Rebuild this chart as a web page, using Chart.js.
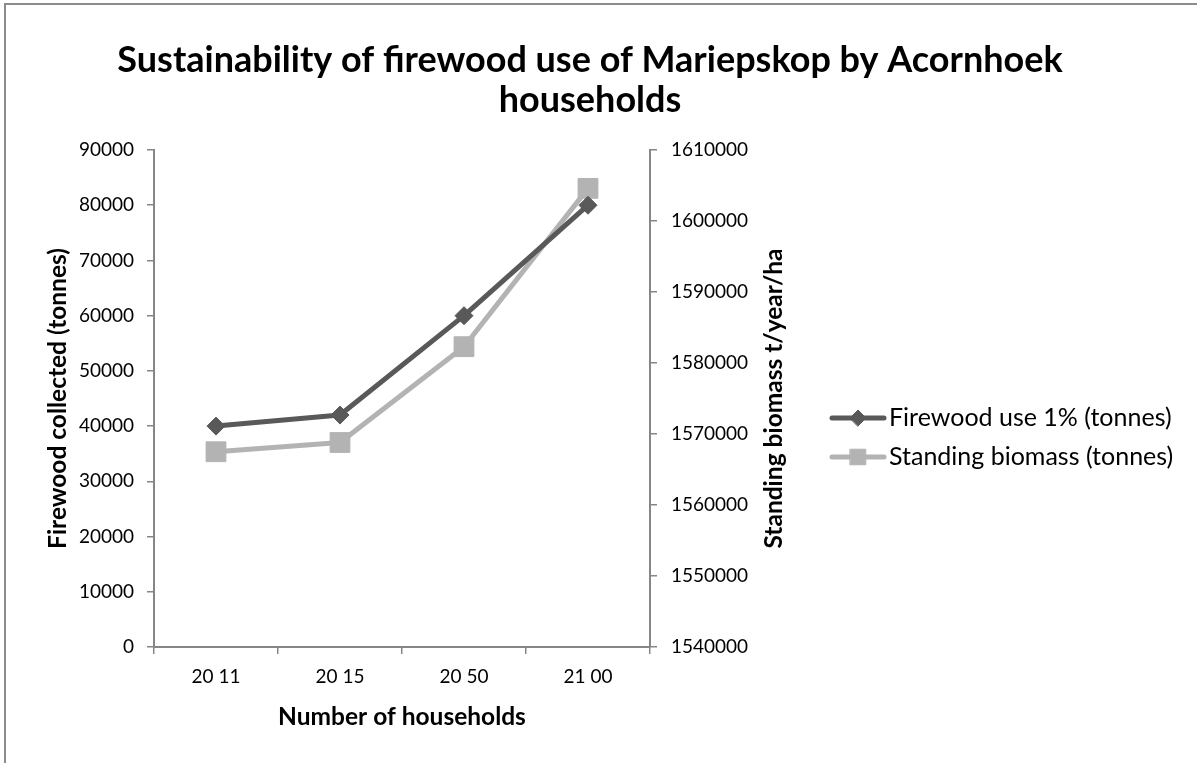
<!DOCTYPE html>
<html>
<head>
<meta charset="utf-8">
<script src="https://cdn.jsdelivr.net/npm/chart.js@4.4.1/dist/chart.umd.min.js"></script>
<style>
  html, body { margin: 0; padding: 0; background: #ffffff; }
  #wrap { position: relative; width: 1197px; height: 763px; }
</style>
</head>
<body>
<div id="wrap"><canvas id="chart" width="1197" height="763"></canvas></div>
<script>
// Category labels along the bottom axis
const categories = ['20 11', '20 15', '20 50', '21 00'];

// Series values
const firewoodUse = [40000, 42000, 60000, 80000];             // left axis
const standingBiomass = [1567500, 1568800, 1582300, 1604600]; // right axis

// Series names and text
const seriesNames = ['Firewood use 1% (tonnes)', 'Standing biomass (tonnes)'];
const titleLines = ['Sustainability of firewood use of Mariepskop by Acornhoek', 'households'];
const xTitle = 'Number of households';
const yLeftTitle = 'Firewood collected (tonnes)';
const yRightTitle = 'Standing biomass t/year/ha';

// Axis ranges
const leftRange = [0, 90000, 10000];
const rightRange = [1540000, 1610000, 10000];

const FONT = 'Lato, "Open Sans", "Liberation Sans", sans-serif';
const AXIS_GREY = '#868686';
const DARK = '#595959';
const LIGHT = '#b3b3b3';

// White background plus the outer frame (left and top edges)
const framePlugin = {
  id: 'frame',
  beforeDraw(chart) {
    const ctx = chart.ctx;
    ctx.save();
    ctx.fillStyle = '#ffffff';
    ctx.fillRect(0, 0, chart.width, chart.height);
    ctx.strokeStyle = '#8c8c8c';
    ctx.lineWidth = 2;
    ctx.beginPath();
    ctx.moveTo(5, chart.height);
    ctx.lineTo(5, 4);
    ctx.lineTo(chart.width, 4);
    ctx.stroke();
    ctx.restore();
  }
};

// Two-line chart heading
const headingPlugin = {
  id: 'heading',
  afterDraw(chart) {
    const ctx = chart.ctx;
    ctx.save();
    ctx.fillStyle = '#000000';
    ctx.font = 'bold 36px ' + FONT;
    ctx.textAlign = 'center';
    ctx.textBaseline = 'middle';
    ctx.fillText(titleLines[0], 590, 60);
    ctx.fillText(titleLines[1], 590, 100);
    ctx.restore();
  }
};

// Right axis title, reading bottom to top
const rightTitlePlugin = {
  id: 'rightTitle',
  afterDraw(chart) {
    const s = chart.scales.y1;
    const ctx = chart.ctx;
    ctx.save();
    ctx.translate(s.right - 10, (s.top + s.bottom) / 2);
    ctx.rotate(-Math.PI / 2);
    ctx.fillStyle = '#000000';
    ctx.font = 'bold 24.5px ' + FONT;
    ctx.textAlign = 'center';
    ctx.textBaseline = 'middle';
    ctx.fillText(yRightTitle, 0, 0);
    ctx.restore();
  }
};

// Legend with line + marker swatches
const legendPlugin = {
  id: 'lineLegend',
  afterDraw(chart) {
    const ctx = chart.ctx;
    const rows = [418, 457];
    chart.data.datasets.forEach((ds, i) => {
      const y = rows[i];
      ctx.save();
      ctx.strokeStyle = ds.borderColor;
      ctx.lineWidth = 5;
      ctx.lineCap = 'round';
      ctx.beginPath();
      ctx.moveTo(832, y);
      ctx.lineTo(884, y);
      ctx.stroke();
      ctx.fillStyle = ds.pointBackgroundColor;
      ctx.strokeStyle = ds.pointBorderColor;
      ctx.lineWidth = 1;
      Chart.helpers.drawPoint(ctx, {
        pointStyle: ds.pointStyle,
        radius: ds.pointStyle === 'rect' ? 11 : 8,
        rotation: 0,
        borderWidth: 1
      }, 858, y);
      ctx.fillStyle = '#000000';
      ctx.font = '25px ' + FONT;
      ctx.textAlign = 'left';
      ctx.textBaseline = 'middle';
      ctx.fillText(ds.label, 889, y);
      ctx.restore();
    });
  }
};

const tickFont = { family: FONT, size: 19 };
const axisTitleFont = { family: FONT, size: 24.5, weight: 'bold' };

new Chart(document.getElementById('chart'), {
  type: 'line',
  data: {
    labels: categories,
    datasets: [
      {
        label: seriesNames[0],
        data: firewoodUse,
        yAxisID: 'y',
        borderColor: DARK,
        backgroundColor: DARK,
        pointBackgroundColor: DARK,
        pointBorderColor: DARK,
        borderWidth: 5,
        pointStyle: 'rectRot',
        pointRadius: 9,
        pointBorderWidth: 1,
        tension: 0,
        order: 1
      },
      {
        label: seriesNames[1],
        data: standingBiomass,
        yAxisID: 'y1',
        borderColor: LIGHT,
        backgroundColor: LIGHT,
        pointBackgroundColor: LIGHT,
        pointBorderColor: LIGHT,
        borderWidth: 5,
        pointStyle: 'rect',
        pointRadius: 14,
        pointBorderWidth: 1,
        tension: 0,
        order: 2
      }
    ]
  },
  options: {
    responsive: false,
    animation: false,
    devicePixelRatio: 1,
    layout: { padding: { left: 43, right: 413, top: 150, bottom: 31 } },
    plugins: {
      legend: { display: false },
      title: { display: false },
      tooltip: { enabled: false }
    },
    elements: { line: { borderCapStyle: 'round', borderJoinStyle: 'round' } },
    scales: {
      x: {
        type: 'category',
        offset: true,
        grid: { offset: true, drawOnChartArea: false, drawTicks: true, tickLength: 7, color: AXIS_GREY, lineWidth: 1.5 },
        border: { display: true, color: AXIS_GREY, width: 2 },
        ticks: { font: tickFont, color: '#000000', padding: 11, maxRotation: 0, autoSkip: false },
        title: { display: true, text: xTitle, font: axisTitleFont, color: '#000000', padding: 0 },
        afterFit(s) { s.height = 85; }
      },
      y: {
        position: 'left',
        min: leftRange[0],
        max: leftRange[1],
        grid: { drawOnChartArea: false, drawTicks: true, tickLength: 7, color: AXIS_GREY, lineWidth: 1.5 },
        border: { display: true, color: AXIS_GREY, width: 2 },
        ticks: { stepSize: leftRange[2], font: tickFont, color: '#000000', padding: 13, callback: v => String(v) },
        title: { display: true, text: yLeftTitle, font: axisTitleFont, color: '#000000', padding: 0 },
        afterFit(s) { s.width = 111; }
      },
      y1: {
        position: 'right',
        min: rightRange[0],
        max: rightRange[1],
        grid: { drawOnChartArea: false, drawTicks: true, tickLength: 7, color: AXIS_GREY, lineWidth: 1.5 },
        border: { display: true, color: AXIS_GREY, width: 2 },
        ticks: { stepSize: rightRange[2], font: tickFont, color: '#000000', padding: 14, callback: v => String(v) },
        title: { display: false },
        afterFit(s) { s.width = 134; }
      }
    }
  },
  plugins: [framePlugin, headingPlugin, rightTitlePlugin, legendPlugin]
});
</script>
</body>
</html>
